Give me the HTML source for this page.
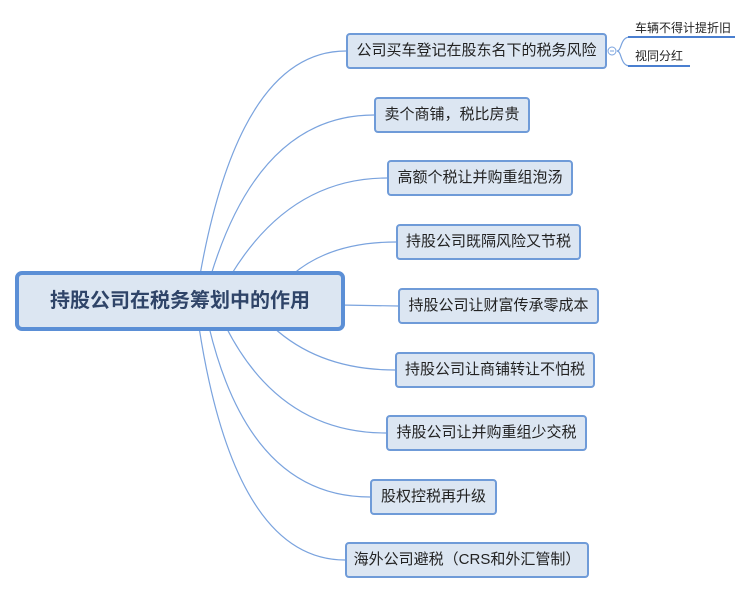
<!DOCTYPE html>
<html><head><meta charset="utf-8"><style>
body{margin:0;width:750px;height:593px;background:#fff;overflow:hidden;position:relative;font-family:"Liberation Sans","Noto Sans CJK SC",sans-serif}
.n{position:absolute;box-sizing:border-box;height:36px;border:2px solid #6f9bd8;border-radius:4px;background:#dce6f2;color:#222;font-size:15px;line-height:32px;text-align:center}
.c{position:absolute;left:15px;top:271px;width:330px;height:60px;box-sizing:border-box;border:4px solid #5b8fd6;border-radius:7px;background:#dce6f2;color:#2f4468;font-weight:bold;font-size:20px;line-height:52px;text-align:center}
.s{position:absolute;font-size:12px;color:#222}
</style></head><body>
<svg width="750" height="593" style="position:absolute;left:0;top:0">
<g fill="none" stroke="#7aa3de" stroke-width="1.2">
<path d="M200 275 Q240 51 346 51"/>
<path d="M211 275 Q260 115 374 115"/>
<path d="M231 275 Q290 178 387 178"/>
<path d="M292 275 Q330 242 396 242"/>
<path d="M340 305 L398 306"/>
<path d="M273 327 Q320 370 395 370"/>
<path d="M226 327 Q280 433 386 433"/>
<path d="M209 327 Q250 497 370 497"/>
<path d="M199 327 Q235 560 345 560"/>
<path d="M617 51 C622 51 620 37 630 37 L735 37"/>
<path d="M617 51 C622 51 620 66 630 66 L690 66"/>
</g>
<g stroke="#4a7fd0" stroke-width="2"><path d="M628 37 L735 37"/><path d="M628 66 L690 66"/></g>
<circle cx="612" cy="51" r="4" fill="#fff" stroke="#7aa3de"/>
<path d="M610 51h4" stroke="#7aa3de"/>
</svg>
<div class="c">持股公司在税务筹划中的作用</div>
<div class="n" style="left:346px;top:33px;width:261px">公司买车登记在股东名下的税务风险</div>
<div class="n" style="left:374px;top:97px;width:156px">卖个商铺，税比房贵</div>
<div class="n" style="left:387px;top:160px;width:186px">高额个税让并购重组泡汤</div>
<div class="n" style="left:396px;top:224px;width:185px">持股公司既隔风险又节税</div>
<div class="n" style="left:398px;top:288px;width:201px">持股公司让财富传承零成本</div>
<div class="n" style="left:395px;top:352px;width:200px">持股公司让商铺转让不怕税</div>
<div class="n" style="left:386px;top:415px;width:201px">持股公司让并购重组少交税</div>
<div class="n" style="left:370px;top:479px;width:127px">股权控税再升级</div>
<div class="n" style="left:345px;top:542px;width:244px">海外公司避税（CRS和外汇管制）</div>
<div class="s" style="left:635px;top:19px">车辆不得计提折旧</div>
<div class="s" style="left:635px;top:47px">视同分红</div>
</body></html>
